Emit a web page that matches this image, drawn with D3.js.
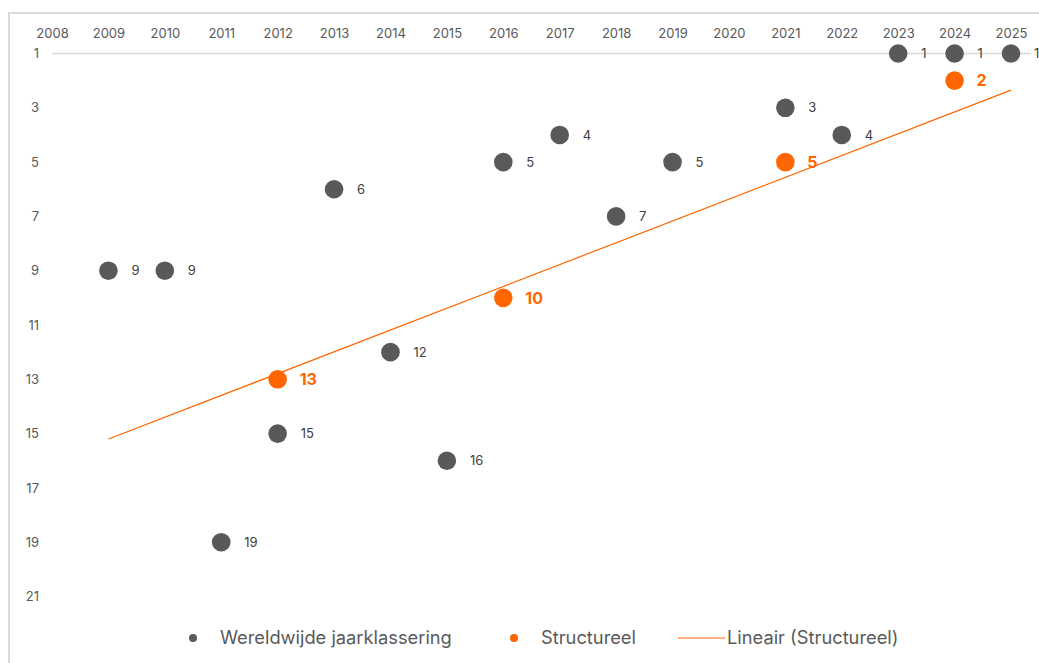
<!DOCTYPE html>
<html>
<head>
<meta charset="utf-8">
<script src="https://cdn.jsdelivr.net/npm/d3@7"></script>
<style>
  body { margin: 0; background: #fff; font-family: Inter, "Open Sans", sans-serif; }
</style>
</head>
<body>
<div id="chart"></div>
<script>
// years on the category axis
var years = [2008, 2009, 2010, 2011, 2012, 2013, 2014, 2015, 2016, 2017, 2018, 2019, 2020, 2021, 2022, 2023, 2024, 2025];
var rankTicks = [1, 3, 5, 7, 9, 11, 13, 15, 17, 19, 21];

// worldwide yearly ranking
var globalYears = [2009, 2010, 2011, 2012, 2013, 2014, 2015, 2016, 2017, 2018, 2019, 2021, 2022, 2023, 2024, 2025];
var globalRank = [9, 9, 19, 15, 6, 12, 16, 5, 4, 7, 5, 3, 4, 1, 1, 1];

// structural ranking
var structYears = [2012, 2016, 2021, 2024];
var structRank = [13, 10, 5, 2];

// linear trend (as drawn)
var trendYears = [2009, 2025];
var trendRank = [15.2, 2.35];

var svgWidth = 1039;
var svgHeight = 663;

var svg = d3.select("#chart")
    .append("svg")
    .attr("width", svgWidth)
    .attr("height", svgHeight);

// outer frame
svg.append("path")
    .attr("d", "M9,663 L9,13 L1039,13")
    .attr("fill", "none")
    .attr("stroke", "#d9d9d9")
    .attr("stroke-width", 2);

var x = d3.scaleLinear().domain([2008, 2025]).range([52, 1011]);
var y = d3.scaleLinear().domain([1, 21]).range([53.5, 596.5]);

var grey = "#595959";
var orange = "#ff6600";

// axis line at rank 1
svg.append("line")
    .attr("x1", x(2008)).attr("x2", 1031)
    .attr("y1", y(1)).attr("y2", y(1))
    .attr("stroke", "#d9d9d9")
    .attr("stroke-width", 1.5);

var topAxis = d3.axisTop(x).tickValues(years).tickFormat(d3.format("d")).tickSize(0).tickPadding(0);
var gx = svg.append("g")
    .attr("transform", "translate(0, 38)")
    .call(topAxis);
gx.select(".domain").remove();
gx.selectAll("text")
    .attr("font-family", "Inter, sans-serif")
    .attr("font-size", 13)
    .attr("fill", grey);

var leftAxis = d3.axisLeft(y).tickValues(rankTicks).tickSize(0).tickPadding(0);
var gy = svg.append("g")
    .attr("transform", "translate(39, 0)")
    .call(leftAxis);
gy.select(".domain").remove();
gy.selectAll("text")
    .attr("font-family", "Inter, sans-serif")
    .attr("font-size", 13)
    .attr("fill", grey);

// trend line
var trendData = trendYears.map(function (d, i) { return { year: d, rank: trendRank[i] }; });
svg.append("path")
    .datum(trendData)
    .attr("d", d3.line().x(d => x(d.year)).y(d => y(d.rank)))
    .attr("fill", "none")
    .attr("stroke", orange)
    .attr("stroke-width", 1.2);

var globalData = globalYears.map(function (d, i) { return { year: d, rank: globalRank[i] }; });
var structData = structYears.map(function (d, i) { return { year: d, rank: structRank[i] }; });

svg.append("g").selectAll("circle")
    .data(globalData)
    .enter()
    .append("circle")
    .attr("cx", d => x(d.year))
    .attr("cy", d => y(d.rank))
    .attr("r", 9.3)
    .attr("fill", grey);

svg.append("g").selectAll("text")
    .data(globalData)
    .enter()
    .append("text")
    .attr("x", d => x(d.year) + 23)
    .attr("y", d => y(d.rank))
    .attr("dy", "0.35em")
    .attr("font-size", 13)
    .attr("fill", "#404040")
    .text(d => d.rank);

svg.append("g").selectAll("circle")
    .data(structData)
    .enter()
    .append("circle")
    .attr("cx", d => x(d.year))
    .attr("cy", d => y(d.rank))
    .attr("r", 9.3)
    .attr("fill", orange);

svg.append("g").selectAll("text")
    .data(structData)
    .enter()
    .append("text")
    .attr("x", d => x(d.year) + 22)
    .attr("y", d => y(d.rank))
    .attr("dy", "0.36em")
    .attr("font-size", 16)
    .attr("font-weight", "bold")
    .attr("fill", orange)
    .text(d => d.rank);

// legend
var legend = svg.append("g").attr("font-size", 18.3).attr("fill", grey);
legend.append("circle").attr("cx", 193).attr("cy", 638).attr("r", 4).attr("fill", grey);
legend.append("text").attr("x", 220).attr("y", 638).attr("dy", "0.35em").text("Wereldwijde jaarklassering");
legend.append("circle").attr("cx", 514).attr("cy", 638).attr("r", 4).attr("fill", orange);
legend.append("text").attr("x", 541).attr("y", 638).attr("dy", "0.35em").text("Structureel");
legend.append("line").attr("x1", 678).attr("x2", 725).attr("y1", 638).attr("y2", 638)
    .attr("stroke", orange).attr("stroke-width", 1.2);
legend.append("text").attr("x", 727).attr("y", 638).attr("dy", "0.35em").text("Lineair (Structureel)");
</script>
</body>
</html>
